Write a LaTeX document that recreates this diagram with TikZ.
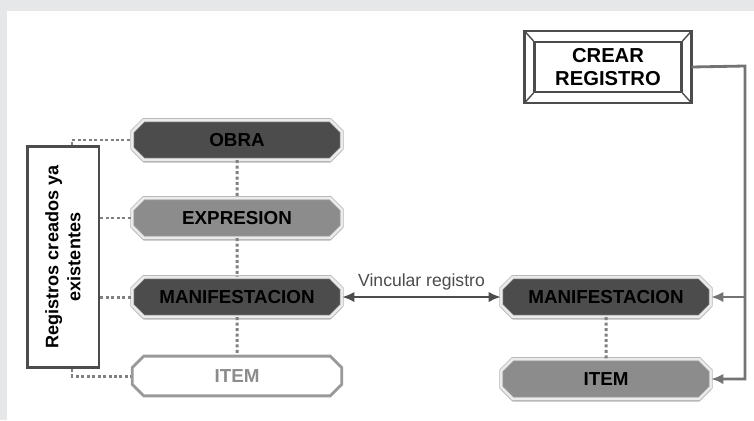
\documentclass[tikz,border=0pt]{standalone}
\usepackage{fontspec}
\setmainfont{Liberation Sans}
\usetikzlibrary{shapes.misc,shadows,arrows.meta}
\definecolor{framegray}{HTML}{E6E7E9}

\begin{document}
\begin{tikzpicture}[x=0.02cm, y=-0.02cm]
        \tikzstyle{entity} = [chamfered rectangle, chamfered rectangle sep=3.3pt,
            inner sep=0pt, text width=3.96cm, align=center, text height=11.7pt, text depth=4.3pt,
            font=\bfseries\fontsize{10.7}{12}\selectfont]
        \tikzstyle{bevel} = [draw=black!30, double=black!8, double distance=1.4pt,
            drop shadow={shadow xshift=0pt, shadow yshift=-1.6pt, fill=black!35, opacity=0.8}]
        \tikzstyle{dots} = [draw=black!50, line width=1.7pt, dash pattern=on 1.7pt off 1.4pt]
        \tikzstyle{feed} = [black!55, line width=1.6pt, -{Latex[length=7pt,width=6pt]}]
        % background frame
        \fill[framegray] (0,0) rectangle (754,420);
        \fill[white] (7,11) rectangle (754,420);
        % existing records
        \node[entity, bevel, fill=black!70] (obra) at (237,140) {OBRA};
        \node[entity, bevel, fill=black!45] (expresion) at (237,218) {EXPRESION};
        \node[entity, bevel, fill=black!70] (manif) at (237,297) {MANIFESTACION};
        \node[entity, fill=white, draw=black!40, line width=1.6pt, text=black!45] (item) at (237,376) {ITEM};
        \node[draw=black!70, line width=1.7pt, fill=white, rotate=90, minimum width=4.42cm, minimum height=1.44cm,
            align=center, font=\bfseries\fontsize{10.3}{12.5}\selectfont] (registros) at (63,257) {Registros creados ya\\existentes};
        % new record
        \node[draw=black!70, line width=1.2pt, minimum width=2.94cm, minimum height=1cm, align=center,
            font=\bfseries\fontsize{11.5}{13.5}\selectfont] (crear) at (608,67) {CREAR\\REGISTRO};
        \draw[black!70, line width=1.6pt] ([shift={(-9,-10)}]crear.north west) rectangle ([shift={(9,10)}]crear.south east);
        \foreach \c/\s in {north west/{(-9,-10)}, north east/{(9,-10)}, south west/{(-9,10)}, south east/{(9,10)}}
            \draw[black!70, line width=0.8pt] (crear.\c) -- ([shift=\s]crear.\c);
        \node[entity, bevel, fill=black!70] (manif2) at (606,297) {MANIFESTACION};
        \node[entity, bevel, fill=black!45] (item2) at (606,379) {ITEM};
        % links
        \foreach \from/\to in {obra/expresion, expresion/manif, manif/item, manif2/item2}
            \draw[dots] (\from) -- (\to);
        \draw[dots] ([xshift=0.18cm]registros.east) |- (obra.west);
        \draw[dots] (registros.south |- expresion) -- (expresion.west);
        \draw[dots] (registros.south |- manif) -- (manif.west);
        \draw[dots] ([xshift=0.18cm]registros.west) |- (item.west);
        \draw[black!70, line width=1.6pt, {Latex[length=7pt,width=6pt]}-{Latex[length=7pt,width=6pt]}]
            (manif.east) -- node[above, font=\fontsize{10}{12}\selectfont] {Vincular registro} (manif2.west);
        \coordinate (bend) at (745,66);
        \draw[feed] ([xshift=0.18cm]crear.east) -- (bend) |- (item2.east);
        \draw[feed] (bend |- manif2.east) -- (manif2.east);
    \end{tikzpicture}
\end{document}
